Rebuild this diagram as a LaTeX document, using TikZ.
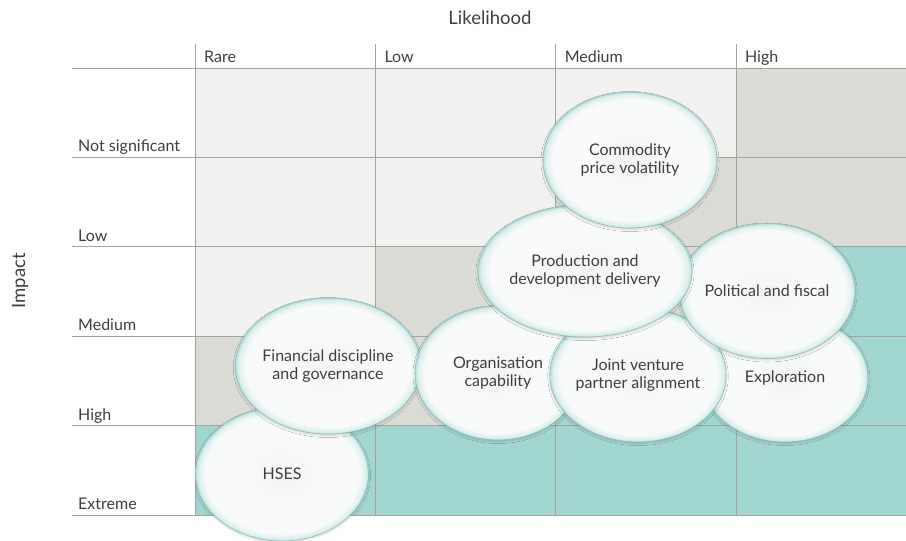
\documentclass[tikz,border=0pt]{standalone}
\usepackage{fontspec}
\setmainfont{Lato}
\usetikzlibrary{
    shapes.geometric,
    shadows.blur
}
\definecolor{ink}{RGB}{62,62,62}
\definecolor{gridline}{RGB}{162,162,160}
\definecolor{cellpale}{RGB}{241,241,240}
\definecolor{cellstone}{RGB}{220,220,215}
\definecolor{cellteal}{RGB}{161,213,208}
\definecolor{bubblecore}{RGB}{242,243,243}
\definecolor{bubblewhite}{RGB}{249,250,250}
\definecolor{bubbleglow}{RGB}{220,240,238}
\definecolor{bubblerim}{RGB}{184,222,218}
\definecolor{bubbleline}{RGB}{145,186,182}

\pgfdeclareradialshading{bubble}{\pgfpoint{0bp}{0bp}}{%
    color(0bp)=(bubblecore);
    color(12bp)=(bubblewhite);
    color(22.2bp)=(bubblewhite);
    color(24.2bp)=(bubbleglow);
    color(25bp)=(bubblerim);
    color(50bp)=(bubblerim)}

\tikzset{
    axislabel/.style={
        font=\fontsize{16}{19}\selectfont,
        text=ink
    },
    axistitle/.style={
        font=\fontsize{18.5}{22}\selectfont,
        text=ink
    },
    rowlabel/.style={
        axislabel,
        anchor=base west,
        inner sep=0pt
    },
    collabel/.style={
        axislabel,
        anchor=base west,
        inner sep=0pt
    },
    gridrule/.style={
        draw=gridline,
        line width=0.8pt
    },
    risk/.style={
        ellipse,
        draw=bubbleline,
        line width=0.6pt,
        shading=bubble,
        inner sep=0pt,
        align=center,
        text=ink,
        font=\fontsize{16}{18.5}\selectfont,
        blur shadow={shadow xshift=0pt, shadow yshift=-1.5pt,
            shadow opacity=16, shadow blur steps=6}
    }
}

\begin{document}
\begin{tikzpicture}[x=1pt, y=-1pt]
\useasboundingbox (0,0) rectangle (906,541);

\def\colw{180.3}
\def\rowh{89.4}
\def\gridx{195}
\def\gridy{68}

% coloured cells, one row of impact at a time
\foreach \row/\shades in {
    0/{cellpale,cellpale,cellpale,cellstone},
    1/{cellpale,cellpale,cellstone,cellstone},
    2/{cellpale,cellstone,cellstone,cellteal},
    3/{cellstone,cellstone,cellteal,cellteal},
    4/{cellteal,cellteal,cellteal,cellteal}} {
    \foreach \shade [count=\col from 0] in \shades {
        \pgfmathsetmacro{\xa}{\gridx + \col * \colw}
        \pgfmathsetmacro{\xb}{min(\xa + \colw, 906)}
        \pgfmathsetmacro{\ya}{\gridy + \row * \rowh}
        \fill[\shade] (\xa, \ya) rectangle (\xb, \ya + \rowh);
    }
}

% rules
\foreach \i in {0,...,5} {
    \draw[gridrule] (72, \gridy + \i * \rowh) -- (906, \gridy + \i * \rowh);
}
\foreach \i in {0,...,3} {
    \draw[gridrule] (\gridx + \i * \colw, 44) -- (\gridx + \i * \colw, \gridy + 5 * \rowh);
}

% axis titles
\node[axistitle] (likelihood) at (490, 18) {Likelihood};
\node[axistitle, rotate=90] (impact) at (20, 281) {Impact};

\foreach \label [count=\i from 0] in {Rare, Low, Medium, High} {
    \node[collabel] (col\i) at (\gridx + \i * \colw + 9, 62) {\label};
}
\foreach \label [count=\i from 1] in {Not significant, Low, Medium, High, Extreme} {
    \node[rowlabel] (row\i) at (78, \gridy + \i * \rowh - 5.5) {\label};
}

% risk bubbles, back to front
\foreach \name/\x/\y/\rx/\ry/\text in {
    hses/282/474/86.5/67/{HSES},
    fin/328/366/87/68/{Financial discipline\\and governance},
    org/498/373/83/67/{Organisation\\capability},
    expl/785/378/83/64/{Exploration},
    jv/638/375/86/67/{Joint venture\\partner alignment},
    pol/767/291/86/67.5/{Political and fiscal},
    prod/585/271/83/66/{Production and\\development delivery},
    comm/630/160/87/68/{Commodity\\price volatility}} {
    \node[risk, minimum width=2*\rx, minimum height=2*\ry] (\name) at (\x, \y) {\text};
}

\end{tikzpicture}
\end{document}
